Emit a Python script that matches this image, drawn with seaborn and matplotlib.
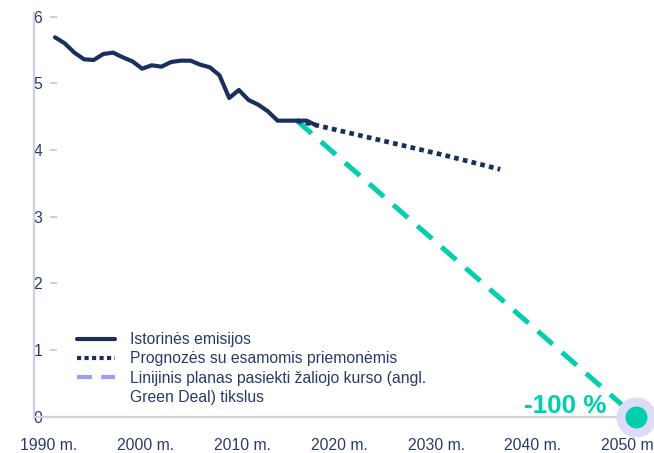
import numpy as np
import pandas as pd
import matplotlib.pyplot as plt
import matplotlib.transforms as mtransforms
from matplotlib.lines import Line2D
import seaborn as sns

# historical emissions
hist_years = list(range(1990, 2018))
hist_values = [5.69, 5.60, 5.46, 5.36, 5.35, 5.44, 5.46, 5.39, 5.33, 5.22,
               5.27, 5.25, 5.32, 5.34, 5.34, 5.28, 5.24, 5.12, 4.78, 4.90,
               4.75, 4.68, 4.58, 4.44, 4.44, 4.44, 4.44, 4.37]
# projection with current measures
proj_years = [2015, 2020, 2025, 2030, 2036]
proj_values = [4.44, 4.27, 4.10, 3.93, 3.71]
# linear Green Deal path
target_years = [2015, 2050]
target_values = [4.44, 0.0]

xticks = [1990, 2000, 2010, 2020, 2030, 2040, 2050]
xtick_labels = ['1990 m.', '2000 m.', '2010 m.', '2020 m.', '2030 m.', '2040 m.', '2050 m.']
yticks = [0, 1, 2, 3, 4, 5, 6]
legend_labels = ['Istorinės emisijos',
                 'Prognozės su esamomis priemonėmis',
                 'Linijinis planas pasiekti žaliojo kurso (angl.',
                 'Green Deal) tikslus']

navy = '#1b2f5f'
teal = '#00cfad'
lavender = '#9d9cf0'
halo = '#dddcf7'
grey = '#cdd1dc'
txt = '#2a3b6b'

sns.set_style('white')
plt.rcParams['font.family'] = ['Liberation Sans', 'DejaVu Sans']

hist = pd.DataFrame({'year': hist_years, 'value': hist_values})
proj = pd.DataFrame({'year': proj_years, 'value': proj_values})
target = pd.DataFrame({'year': target_years, 'value': target_values})

fig = plt.figure(figsize=(6.54, 4.53), dpi=100)
ax = fig.add_axes([0.052, 0.0801, 0.948, 0.892])

sns.lineplot(data=target, x='year', y='value', ax=ax, color=teal, lw=3.6,
             linestyle=(0, (3.9, 2.5)), solid_capstyle='butt', zorder=2)
sns.lineplot(data=proj, x='year', y='value', ax=ax, color=navy, lw=3.4,
             linestyle=(0, (1, 0.9)), zorder=3)
sns.lineplot(data=hist, x='year', y='value', ax=ax, color=navy, lw=3.0,
             solid_joinstyle='round', zorder=4)

ax.scatter([target_years[-1]], [target_values[-1]], s=830, color=halo,
           zorder=5, clip_on=False, linewidths=0)
ax.scatter([target_years[-1]], [target_values[-1]], s=250, color=teal,
           zorder=6, clip_on=False, linewidths=0)
ax.annotate('-100 %', xy=(target_years[-1], target_values[-1]),
            xytext=(-21, 2.7), textcoords='offset points', ha='right',
            va='baseline', fontsize=18.7, fontweight='bold', color=teal, zorder=7)

ax.set_xlim(1987.83, 2051.9)
ax.set_ylim(0, 6.06)
ax.set_xticks(xticks)
ax.set_xticklabels(xtick_labels)
ax.set_yticks(yticks)
ax.set_xlabel('')
ax.set_ylabel('')
ax.tick_params(axis='x', length=0, pad=15, labelsize=11.3, labelcolor=txt)
ax.tick_params(axis='y', length=0, pad=-5.8, labelsize=11.3, labelcolor=txt)
offset = mtransforms.ScaledTranslation(-6 / 100, 0, fig.dpi_scale_trans)
for lab in ax.get_xticklabels():
    lab.set_transform(lab.get_transform() + offset)

# little grey tick marks right of the labels
ax.hlines(yticks[1:], 0.0258, 0.037, transform=ax.get_yaxis_transform(),
          color=grey, lw=1.5, zorder=1)

for side in ['top', 'right']:
    ax.spines[side].set_visible(False)
for side in ['left', 'bottom']:
    ax.spines[side].set_color(grey)
    ax.spines[side].set_linewidth(1.6)

# third entry wraps onto a second row with no handle
handles = [Line2D([], [], color=navy, lw=3.0),
           Line2D([], [], color=navy, lw=3.0, linestyle=(0, (1, 0.8))),
           Line2D([], [], color=lavender, lw=3.0, linestyle=(0, (3.6, 2.2))),
           Line2D([], [], color='none', lw=0)]
leg = ax.legend(handles, legend_labels, loc='upper left', bbox_to_anchor=(0.0694, 0.2096),
                frameon=False, fontsize=11.3, handlelength=2.4, handletextpad=1.0,
                labelspacing=0.28, borderpad=0, borderaxespad=0)
for t in leg.get_texts():
    t.set_color(txt)

plt.savefig('out.png', dpi=100)
